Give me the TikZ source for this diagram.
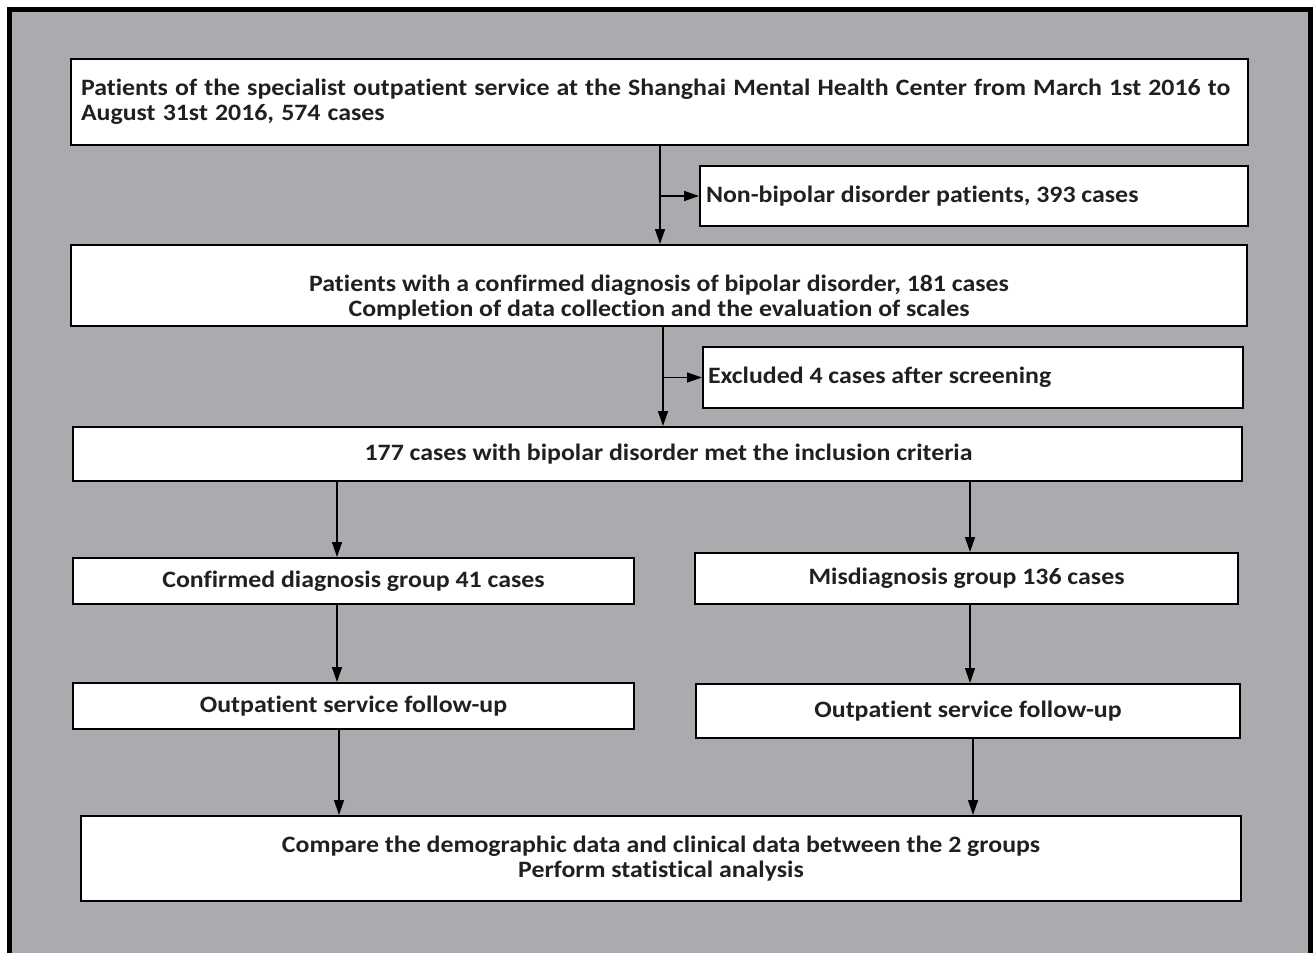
\documentclass[tikz,border=0pt]{standalone}
\usepackage{fontspec}
\setmainfont{Carlito}[FakeStretch=1.1, Ligatures=NoCommon]
\usetikzlibrary{arrows.meta}
\definecolor{bggray}{RGB}{170,171,175}
\definecolor{txt}{RGB}{35,31,32}
\begin{document}
\begin{tikzpicture}[x=1pt,y=-1pt,
  box/.style={draw=black, line width=2pt, fill=white, inner sep=0pt, text=txt,
    font=\fontsize{23.5}{25}\selectfont\bfseries},
  arr/.style={-{Triangle[length=15pt,width=10pt]}, line width=1.4pt, black}]
\useasboundingbox (0,0) rectangle (1313,952);
\fill[white] (0,0) rectangle (1313,952);
\fill[bggray] (9.5,10) rectangle (1310,975);
\draw[line width=5pt] (9.5,10) rectangle (1310,975);

\node[box, minimum width=1177, minimum height=86, text width=1157, align=flush left] (b1) at (659.5,102)
  {\spaceskip=7.1pt Patients of the specialist outpatient service at the Shanghai Mental Health Center from March 1st 2016 to\\August 31st 2016, 574 cases};
\node[box, anchor=west, minimum width=548, minimum height=60, inner xsep=6pt, text width=536, align=flush left] (nb) at (699,196)
  {Non-bipolar disorder patients, 393 cases};
\node[box, minimum width=1176, minimum height=81, align=center] (b2) at (659,285.5)
  {\rule{0pt}{41pt}Patients with a confirmed diagnosis of bipolar disorder, 181 cases\\Completion of data collection and the evaluation of scales};
\node[box, anchor=west, minimum width=540, minimum height=61, inner xsep=5pt, text width=530, align=flush left] (ex) at (702,377.5)
  {Excluded 4 cases after screening};
\node[box, minimum width=1169, minimum height=54] (b3) at (657.5,454)
  {\hspace*{22pt}177 cases with bipolar disorder met the inclusion criteria};
\node[box, minimum width=561, minimum height=46] (cf) at (353.5,581)
  {Confirmed diagnosis group 41 cases};
\node[box, minimum width=543, minimum height=51] (mg) at (966.5,578.5)
  {Misdiagnosis group 136 cases};
\node[box, minimum width=561, minimum height=46] (o1) at (353.5,706)
  {Outpatient service follow-up};
\node[box, minimum width=544, minimum height=54] (o2) at (968,711)
  {Outpatient service follow-up};
\node[box, minimum width=1160, minimum height=85, align=center] (b4) at (661,858.5)
  {Compare the demographic data and clinical data between the 2 groups\\Perform statistical analysis};

\coordinate (c1) at (660,0);
\coordinate (c2) at (663,0);
\coordinate (cL) at (337,0);
\coordinate (cL2) at (339,0);
\coordinate (cR) at (970,0);
\coordinate (cR2) at (973,0);
\coordinate (j1) at (660,196);
\coordinate (j2) at (663,377.5);

\draw[arr] (b1.south -| c1) -- (b2.north -| c1);
\draw[arr] (j1) -- (nb.west);
\draw[arr] (b2.south -| c2) -- (b3.north -| c2);
\draw[arr] (j2) -- (ex.west);
\draw[arr] (b3.south -| cL) -- (cf.north -| cL);
\draw[arr] (b3.south -| cR) -- (mg.north -| cR);
\draw[arr] (cf.south -| cL) -- (o1.north -| cL);
\draw[arr] (mg.south -| cR) -- (o2.north -| cR);
\draw[arr] (o1.south -| cL2) -- (b4.north -| cL2);
\draw[arr] (o2.south -| cR2) -- (b4.north -| cR2);
\end{tikzpicture}
\end{document}
